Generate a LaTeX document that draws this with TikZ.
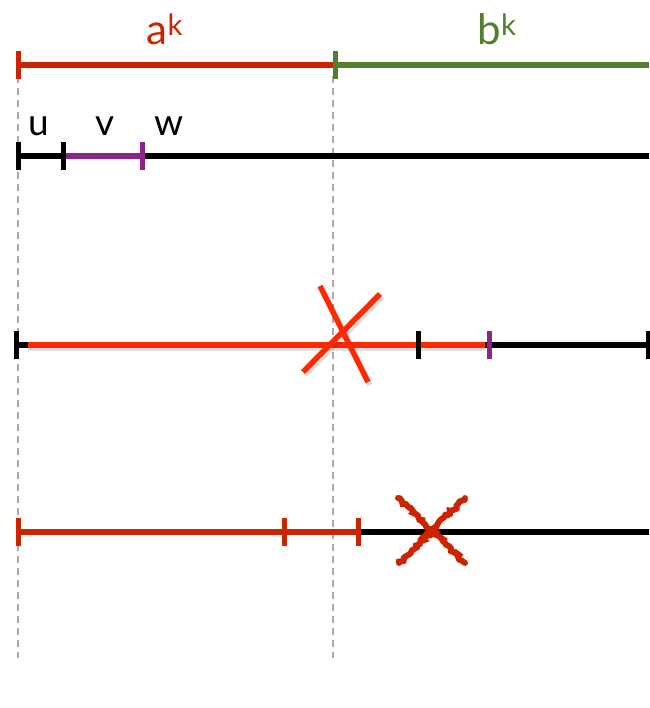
\documentclass[tikz,border=0pt]{standalone}
\usepackage{fontspec}
\setmainfont{Lato}
\usepackage{tikz}
\usetikzlibrary{decorations.pathmorphing}

\definecolor{akred}{RGB}{204,36,0}
\definecolor{bkgreen}{RGB}{82,126,46}
\definecolor{vpurple}{RGB}{140,36,140}
\definecolor{crossred}{RGB}{255,40,0}
\definecolor{guidegray}{RGB}{170,170,170}

\tikzset{
    seg/.style={line width=5.5pt},
    barmark/.style={line width=5pt},
    guide/.style={guidegray, line width=2.2pt, dash pattern=on 7pt off 5pt},
    lbl/.style={font=\fontsize{37}{39}\selectfont},
    biglbl/.style={font=\fontsize{42}{44}\selectfont},
    shade/.style={black, opacity=0.12, line width=7pt},
    rough/.style={akred, line width=6pt, line cap=round,
        decorate, decoration={random steps, segment length=2.5pt, amplitude=1.8pt}}
}
% short vertical bar centred on a point
\newcommand{\barat}[2]{\draw[barmark,#1] (#2) ++(0,-14) -- ++(0,28);}

\begin{document}
\begin{tikzpicture}[x=1pt, y=-1pt]
    \useasboundingbox (0,0) rectangle (649,708);

    % guide lines
    \coordinate (g0) at (18,76);
    \coordinate (g1) at (18,658);
    \coordinate (h0) at (333,76);
    \coordinate (h1) at (333,658);
    \draw[guide] (g0) -- (g1);
    \draw[guide] (h0) -- (h1);

    % top: the two blocks
    \coordinate (a0) at (18,65);
    \coordinate (a1) at (335,65);
    \coordinate (b1) at (649,65);
    \node[biglbl, text=akred] (alabel) at (165,29) {a\textsuperscript{k}};
    \node[biglbl, text=bkgreen] (blabel) at (497,29) {b\textsuperscript{k}};
    \draw[seg, akred] (a0) -- (a1);
    \draw[seg, bkgreen] (a1) -- (b1);
    \barat{akred}{a0}
    \barat{bkgreen}{a1}

    % split into u, v, w
    \coordinate (u0) at (18,156);
    \coordinate (u1) at (63,156);
    \coordinate (v1) at (142,156);
    \coordinate (w1) at (649,156);
    \node[lbl] (ulabel) at (39,126) {u};
    \node[lbl] (vlabel) at (105,126) {v};
    \node[lbl] (wlabel) at (169,126) {w};
    \draw[seg] (u0) -- (w1);
    \draw[seg, vpurple] (u1) -- (v1);
    \barat{black}{u0}
    \barat{black}{u1}
    \barat{vpurple}{v1}

    % pumped word, crossed out
    \coordinate (p0) at (16,345);
    \coordinate (p1) at (28,345);
    \coordinate (p2) at (418,345);
    \coordinate (p3) at (485,345);
    \coordinate (p4) at (489,345);
    \coordinate (p5) at (648,345);
    \draw[seg] (p0) -- (p5);
    \draw[shade] ([yshift=-2.5]p1) -- ([yshift=-2.5]p3);
    \draw[seg, crossred] (p1) -- (p3);
    \barat{black}{p0}
    \barat{black}{p2}
    \barat{vpurple}{p4}
    \barat{black}{p5}
    \coordinate (xa) at (320,286);
    \coordinate (xb) at (368,382);
    \coordinate (xc) at (303,372);
    \coordinate (xd) at (380,294);
    \draw[shade, line width=6pt] ([shift={(2,3)}]xa) -- ([shift={(2,3)}]xb);
    \draw[shade, line width=6pt] ([shift={(2,3)}]xc) -- ([shift={(2,3)}]xd);
    \draw[seg, crossred] (xa) -- (xb);
    \draw[seg, crossred] (xc) -- (xd);

    % second attempt
    \coordinate (q0) at (18,532);
    \coordinate (q1) at (284,532);
    \coordinate (q2) at (358,532);
    \coordinate (q3) at (649,532);
    \draw[seg] (q2) -- (q3);
    \draw[seg, akred] (q0) -- (q2);
    \barat{akred}{q0}
    \barat{akred}{q1}
    \barat{akred}{q2}
    \coordinate (ya) at (398,498);
    \coordinate (yb) at (465,563);
    \coordinate (yc) at (399,563);
    \coordinate (yd) at (465,498);
    \draw[rough] (ya) -- (yb);
    \draw[rough] (yc) -- (yd);

\end{tikzpicture}
\end{document}
